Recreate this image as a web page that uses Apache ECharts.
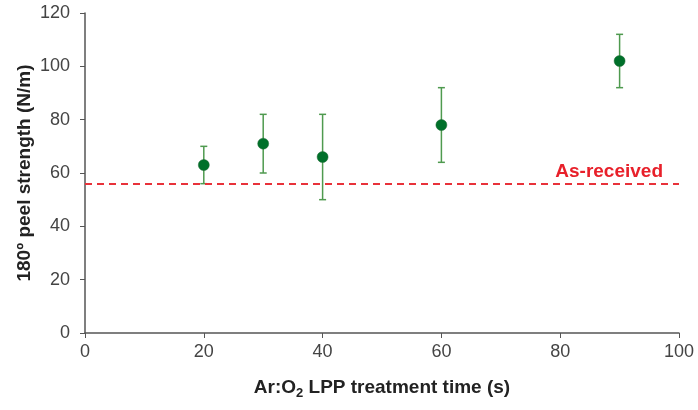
<!DOCTYPE html>
<html><head><meta charset="utf-8">
<script src="https://cdn.jsdelivr.net/npm/echarts@6/dist/echarts.min.js"></script>
<style>html,body{margin:0;padding:0;background:#fff}#c{width:698px;height:410px}</style>
</head><body><div id="c"></div>
<script>
const times = [20, 30, 40, 60, 90];
const peel = [63, 71, 66, 78, 102];
const errLow = [56, 60, 50, 64, 92];
const errHigh = [70, 82, 82, 92, 112];
const asReceived = 56;
const xTicks = [0, 20, 40, 60, 80, 100];
const yTicks = [0, 20, 40, 60, 80, 100, 120];

const chart = echarts.init(document.getElementById('c'));
const font = 'Arial, "Liberation Sans", sans-serif';
chart.setOption({
  animation: false,
  backgroundColor: '#fff',
  grid: {left: 85, right: 19, top: 13, bottom: 77, outerBoundsMode: 'none', containLabel: false},
  xAxis: {
    type: 'value', min: xTicks[0], max: xTicks[xTicks.length-1], interval: 20,
    name: '{a|Ar:O}{s|2}{a| LPP treatment time (s)}',
    nameLocation: 'middle', nameGap: 42,
    nameTextStyle: {rich: {
      a: {fontFamily: font, fontWeight: 'bold', fontSize: 19, color: '#222'},
      s: {fontFamily: font, fontWeight: 'bold', fontSize: 13, color: '#222', padding: [12,0,0,0]}
    }},
    axisLine: {show: true, lineStyle: {color: '#555', width: 1.5}},
    axisTick: {show: true, length: 5, lineStyle: {color: '#555'}},
    splitLine: {show: false},
    axisLabel: {fontFamily: font, fontSize: 18, color: '#444', margin: 10}
  },
  yAxis: {
    type: 'value', min: yTicks[0], max: yTicks[yTicks.length-1], interval: 20,
    name: '180º peel strength (N/m)', nameLocation: 'middle', nameGap: 51,
    nameMoveOverlap: false,
    nameTextStyle: {fontFamily: font, fontWeight: 'bold', fontSize: 19, color: '#222'},
    axisLine: {show: true, lineStyle: {color: '#555', width: 1.5}},
    axisTick: {show: true, length: 5, lineStyle: {color: '#555'}},
    splitLine: {show: false},
    axisLabel: {fontFamily: font, fontSize: 18, color: '#444', margin: 15}
  },
  series: [
    {
      type: 'custom',
      data: times.map((t, i) => [t, errLow[i], errHigh[i]]),
      renderItem: function (params, api) {
        const x = api.value(0);
        const lo = api.coord([x, api.value(1)]);
        const hi = api.coord([x, api.value(2)]);
        const w = 3.5;
        const style = {stroke: '#4f9a4f', lineWidth: 1.5};
        return {type: 'group', children: [
          {type: 'line', shape: {x1: lo[0], y1: lo[1], x2: hi[0], y2: hi[1]}, style},
          {type: 'line', shape: {x1: lo[0]-w, y1: lo[1], x2: lo[0]+w, y2: lo[1]}, style},
          {type: 'line', shape: {x1: hi[0]-w, y1: hi[1], x2: hi[0]+w, y2: hi[1]}, style}
        ]};
      },
      z: 2,
      markLine: {
        silent: true, symbol: 'none',
        lineStyle: {color: '#e8323a', type: [7, 5], width: 2},
        label: {show: true, position: 'insideEndTop', formatter: 'As-received',
          fontFamily: font, fontWeight: 'bold', fontSize: 19, color: '#e8202a', distance: [16, 2]},
        data: [{yAxis: asReceived}]
      }
    },
    {
      type: 'scatter',
      data: times.map((t, i) => [t, peel[i]]),
      symbol: 'circle', symbolSize: 11,
      itemStyle: {color: '#00702a', opacity: 1, borderColor: '#1f6a35', borderWidth: 0.5},
      z: 3
    }
  ]
});
</script></body></html>
